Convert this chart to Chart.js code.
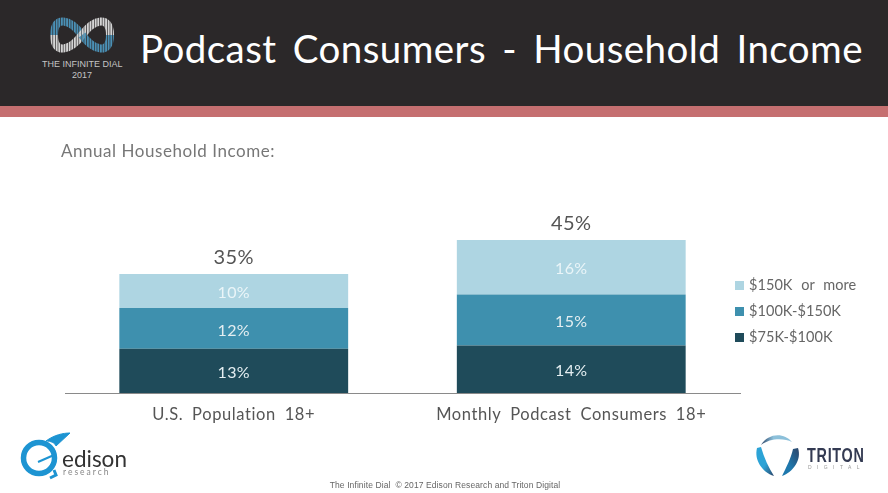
<!DOCTYPE html>
<html>
<head>
<meta charset="utf-8">
<title>Podcast Consumers - Household Income</title>
<script src="https://cdn.jsdelivr.net/npm/chart.js@4"></script>
<style>
  html, body { margin: 0; padding: 0; background: #fff; }
  #page { position: relative; width: 888px; height: 493px; overflow: hidden; font-family: Lato, sans-serif; }
  #page > * { position: absolute; }
  #band { left: 0; top: 0; width: 888px; height: 106px; background: #2b2829; }
  #rule { left: 0; top: 106px; width: 888px; height: 11px; background: #c56f70; }
  #title { left: 140px; top: 24px; color: #fff; font-size: 38.5px; line-height: 48px; word-spacing: 6px; letter-spacing: 0.43px; white-space: nowrap; }
  #dial { left: 42px; top: 59px; width: 80px; text-align: center; color: #c4c4c4; font: 9px/11px "Liberation Sans", sans-serif; white-space: nowrap; }
  #sub { left: 61px; top: 141px; color: #777; font-size: 17px; line-height: 20px; letter-spacing: 0.55px; white-space: nowrap; }
  #foot { left: 0; width: 888px; top: 480px; text-align: center; padding-left: 1px; color: #666; font: 8.5px/11px "Liberation Sans", sans-serif; letter-spacing: 0.1px; }
  #legend { left: 735px; top: 274px; color: #666; font-size: 14.5px; word-spacing: 5px; letter-spacing: 0.05px; }
  #legend div { height: 26px; line-height: 21px; white-space: nowrap; }
  #legend i { display: inline-block; width: 9px; height: 9px; margin-right: 5px; }
  #edison { left: 62px; top: 448px; color: #333; font-size: 22.5px; line-height: 22px; }
  #research { left: 63px; top: 467px; color: #888; font-size: 8.5px; line-height: 10px; letter-spacing: 2px; }
  #triton { left: 807px; top: 443px; color: #333a52; font: bold 20px/24px "Liberation Sans", sans-serif; letter-spacing: 1px; transform: scaleX(0.72); transform-origin: left; white-space: nowrap; }
  #digital { left: 808px; top: 464px; color: #999; font: 5px/6px "Liberation Sans", sans-serif; letter-spacing: 5.4px; white-space: nowrap; }
</style>
</head>
<body>
<div id="page">
  <canvas id="chart" width="888" height="493" style="left:0;top:0"></canvas>
  <div id="band"></div>
  <div id="rule"></div>
  <svg style="left:48px;top:14px" width="68" height="42" viewBox="0 0 68 42" fill="none" stroke-width="8">
    <defs>
      <pattern id="blue" patternUnits="userSpaceOnUse" width="2.6" height="4"><rect width="1.9" height="4" fill="#4a90b5"/></pattern>
      <pattern id="grey" patternUnits="userSpaceOnUse" width="2.6" height="4"><rect width="1.9" height="4" fill="#d4d4d4"/></pattern>
    </defs>
    <path d="M6 21C6 1 22 5 34 21" stroke="url(#blue)"/>
    <path d="M6 21C6 41 22 37 34 21" stroke="url(#grey)"/>
    <path d="M34 21C46 5 62 1 62 21" stroke="url(#grey)"/>
    <path d="M34 21C46 37 62 41 62 21" stroke="url(#blue)"/>
  </svg>
  <div id="dial">THE INFINITE DIAL<br>2017</div>
  <div id="title">Podcast Consumers - Household Income</div>
  <div id="sub">Annual Household Income:</div>
  <div id="legend"></div>
  <svg style="left:18px;top:432px" width="54" height="50" viewBox="0 0 54 50" fill="none" stroke="#1d94d2">
    <circle cx="21" cy="26" r="15.5" stroke-width="5.5"/>
    <path d="M28 9C36 3 45 1 52 1L38 14C37 11 33 9 28 9Z" fill="#1d94d2" stroke-width="1"/>
    <path d="M20 30L36 23" stroke-width="2"/>
    <path d="M32 46L38 43L36 38" stroke-width="3"/>
  </svg>
  <div id="edison">edison</div>
  <div id="research">research</div>
  <svg style="left:754px;top:432px" width="50" height="46" viewBox="0 0 50 46">
    <defs>
      <linearGradient id="tTop" x1="0" x2="1" y1="0" y2="0"><stop offset="0" stop-color="#2c4468"/><stop offset="0.4" stop-color="#8cc0da"/></linearGradient>
      <linearGradient id="tLeft" x1="0" x2="1" y1="0" y2="1"><stop offset="0.55" stop-color="#2ca3d6"/><stop offset="1" stop-color="#2c4468"/></linearGradient>
      <linearGradient id="tRight" x1="1" x2="0" y1="0" y2="1"><stop offset="0" stop-color="#2c4468"/><stop offset="0.6" stop-color="#1e78ad"/></linearGradient>
    </defs>
    <path d="M7 13C14 1 30 0 38 10C30 6 16 6 7 13Z" fill="url(#tTop)"/>
    <path d="M3 16C0 28 8 40 20 44C15 36 10 26 7 15Z" fill="url(#tLeft)"/>
    <path d="M44 16C48 28 39 40 28 44C32 36 37 26 39 17Z" fill="url(#tRight)"/>
  </svg>
  <div id="triton">TRITON</div>
  <div id="digital">DIGITAL</div>
  <div id="foot">The Infinite Dial &nbsp;© 2017 Edison Research and Triton Digital</div>
</div>
<script>
// ── DATA ───────────────────────────────────────────────────────────────────
const categories = ["U.S. Population 18+", "Monthly Podcast Consumers 18+"];
const income75to100 = [13, 14];
const income100to150 = [12, 15];
const income150plus = [10, 16];
const totals = [35, 45];
const seriesNames = ["$75K-$100K", "$100K-$150K", "$150K or more"];
const seriesColors = ["#1f4b5a", "#3e90ae", "#aed5e2"];

const labelFont = "Lato, sans-serif";

// values inside the segments and totals above the stacks
const valueLabels = {
  id: "valueLabels",
  afterDatasetsDraw(chart) {
    const ctx = chart.ctx;
    ctx.save();
    ctx.textAlign = "center";
    ctx.textBaseline = "middle";
    ctx.letterSpacing = "0.4px";
    ctx.font = "16px " + labelFont;
    chart.data.datasets.forEach((ds, d) => {
      chart.getDatasetMeta(d).data.forEach((bar, i) => {
        ctx.fillStyle = d === 2 ? "#eaf5f8" : "#e4eef1";
        ctx.fillText(ds.data[i] + "%", bar.x, (bar.y + bar.base) / 2 + 2);
      });
    });
    ctx.font = "20px " + labelFont;
    ctx.fillStyle = "#555";
    totals.forEach((t, i) => {
      const x = chart.scales.x.getPixelForValue(i);
      ctx.fillText(t + "%", x, chart.scales.y.getPixelForValue(t) - 16);
    });
    ctx.restore();
  },
};

const wideWords = {
  id: "wideWords",
  beforeDraw(chart) {
    chart.ctx.wordSpacing = "4px";
    chart.ctx.letterSpacing = "0.6px";
  },
};

new Chart(document.getElementById("chart").getContext("2d"), {
  type: "bar",
  data: {
    labels: categories,
    datasets: [
      { label: seriesNames[0], data: income75to100, backgroundColor: seriesColors[0] },
      { label: seriesNames[1], data: income100to150, backgroundColor: seriesColors[1] },
      { label: seriesNames[2], data: income150plus, backgroundColor: seriesColors[2] },
    ],
  },
  options: {
    responsive: false, animation: false,
    devicePixelRatio: 1,
    layout: { padding: { left: 65, right: 148, top: 223, bottom: 0 } },
    datasets: { bar: { categoryPercentage: 1, barPercentage: 0.678, borderWidth: 0 } },
    plugins: { legend: { display: false }, tooltip: { enabled: false } },
    scales: {
      x: {
        stacked: true,
        grid: { display: false },
        border: { display: true, color: "#8a8a8a", width: 1 },
        ticks: { color: "#555", font: { family: labelFont, size: 16.5 }, maxRotation: 0, autoSkip: false, padding: 4 },
        afterFit: s => { s.height = 100; },
      },
      y: { stacked: true, display: false, min: 0, max: 50 },
    },
  },
  plugins: [wideWords, valueLabels],
});

// legend, top entry is the top of the stack
const legendEl = document.getElementById("legend");
[2, 1, 0].forEach(i => {
  const row = document.createElement("div");
  const swatch = document.createElement("i");
  swatch.style.background = seriesColors[i];
  row.appendChild(swatch);
  row.appendChild(document.createTextNode(seriesNames[i]));
  legendEl.appendChild(row);
});
</script>
</body>
</html>
